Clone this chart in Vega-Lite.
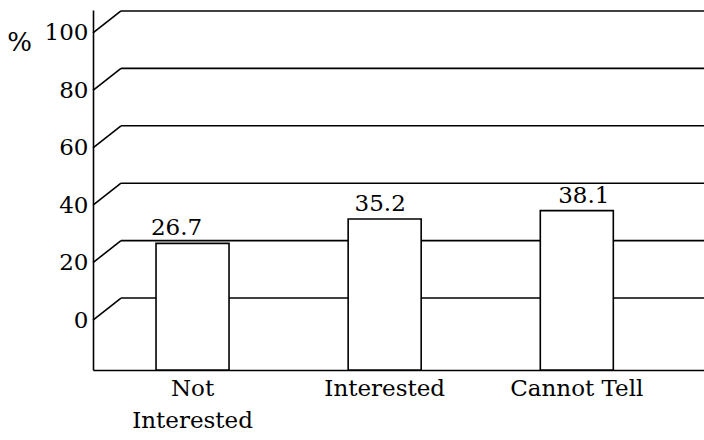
{
  "$schema": "https://vega.github.io/schema/vega-lite/v6.json",
  "width": 611,
  "height": 360,
  "autosize": "none",
  "padding": {"left": 93, "top": 10, "right": 0, "bottom": 70},
  "background": "white",
  "config": {"view": {"stroke": null}, "font": "DejaVu Serif"},
  "datasets": {
    "responses": [
      {"category": "Not Interested", "percent": 26.7},
      {"category": "Interested", "percent": 35.2},
      {"category": "Cannot Tell", "percent": 38.1}
    ],
    "grid": [{"v": 0}, {"v": 20}, {"v": 40}, {"v": 60}, {"v": 80}, {"v": 100}]
  },
  "layer": [
    {
      "data": {"name": "grid"},
      "mark": {"type": "rule", "color": "black", "strokeWidth": 1.6, "x2Offset": 28, "y2Offset": -22},
      "encoding": {
        "x": {"datum": 0, "type": "quantitative", "scale": {"domain": [0, 1]}, "axis": null},
        "x2": {"datum": 0},
        "y": {
          "field": "v", "type": "quantitative",
          "scale": {"domain": [-17.4, 108], "nice": false, "zero": false},
          "axis": {
            "values": [0, 20, 40, 60, 80, 100],
            "ticks": false, "grid": false,
            "domainColor": "black", "domainWidth": 1.6,
            "labelFont": "DejaVu Serif", "labelFontSize": 23, "labelColor": "black", "labelPadding": 5,
            "title": "%", "titleAngle": 0, "titleFont": "DejaVu Serif", "titleFontSize": 26,
            "titleFontWeight": "normal", "titleColor": "black",
            "titleX": -74, "titleY": 32, "titleAlign": "center", "titleBaseline": "middle"
          }
        },
        "y2": {"field": "v"}
      }
    },
    {
      "data": {"name": "grid"},
      "mark": {"type": "rule", "color": "black", "strokeWidth": 1.6, "xOffset": 28, "yOffset": -22, "y2Offset": -22},
      "encoding": {
        "x": {"datum": 0, "type": "quantitative", "scale": {"domain": [0, 1]}, "axis": null},
        "x2": {"datum": 1},
        "y": {"field": "v", "type": "quantitative"}
      }
    },
    {
      "data": {"name": "responses"},
      "mark": {"type": "bar", "fill": "white", "stroke": "black", "strokeWidth": 1.6},
      "encoding": {
        "x": {
          "field": "category", "type": "nominal", "sort": null,
          "scale": {"paddingInner": 0.62, "paddingOuter": 0.4, "align": 0.41},
          "axis": {
            "title": null, "labelAngle": 0, "ticks": false,
            "domainColor": "black", "domainWidth": 1.6,
            "labelFont": "DejaVu Serif", "labelFontSize": 23, "labelColor": "black",
            "labelPadding": 7, "labelBaseline": "top", "labelLineHeight": 32,
            "labelExpr": "datum.value == 'Not Interested' ? ['Not', 'Interested'] : datum.value"
          }
        },
        "y": {"field": "percent", "type": "quantitative"},
        "y2": {"datum": -17.4}
      }
    },
    {
      "data": {"name": "responses"},
      "mark": {"type": "text", "baseline": "bottom", "dy": -3, "font": "DejaVu Serif", "fontSize": 23, "color": "black"},
      "encoding": {
        "x": {
          "field": "category", "type": "nominal", "sort": null,
          "scale": {"paddingInner": 0.62, "paddingOuter": 0.4, "align": 0.41},
          "axis": null
        },
        "y": {"field": "percent", "type": "quantitative"},
        "text": {"field": "percent", "type": "quantitative", "format": ".1f"}
      }
    }
  ],
  "resolve": {"scale": {"x": "independent"}}
}
